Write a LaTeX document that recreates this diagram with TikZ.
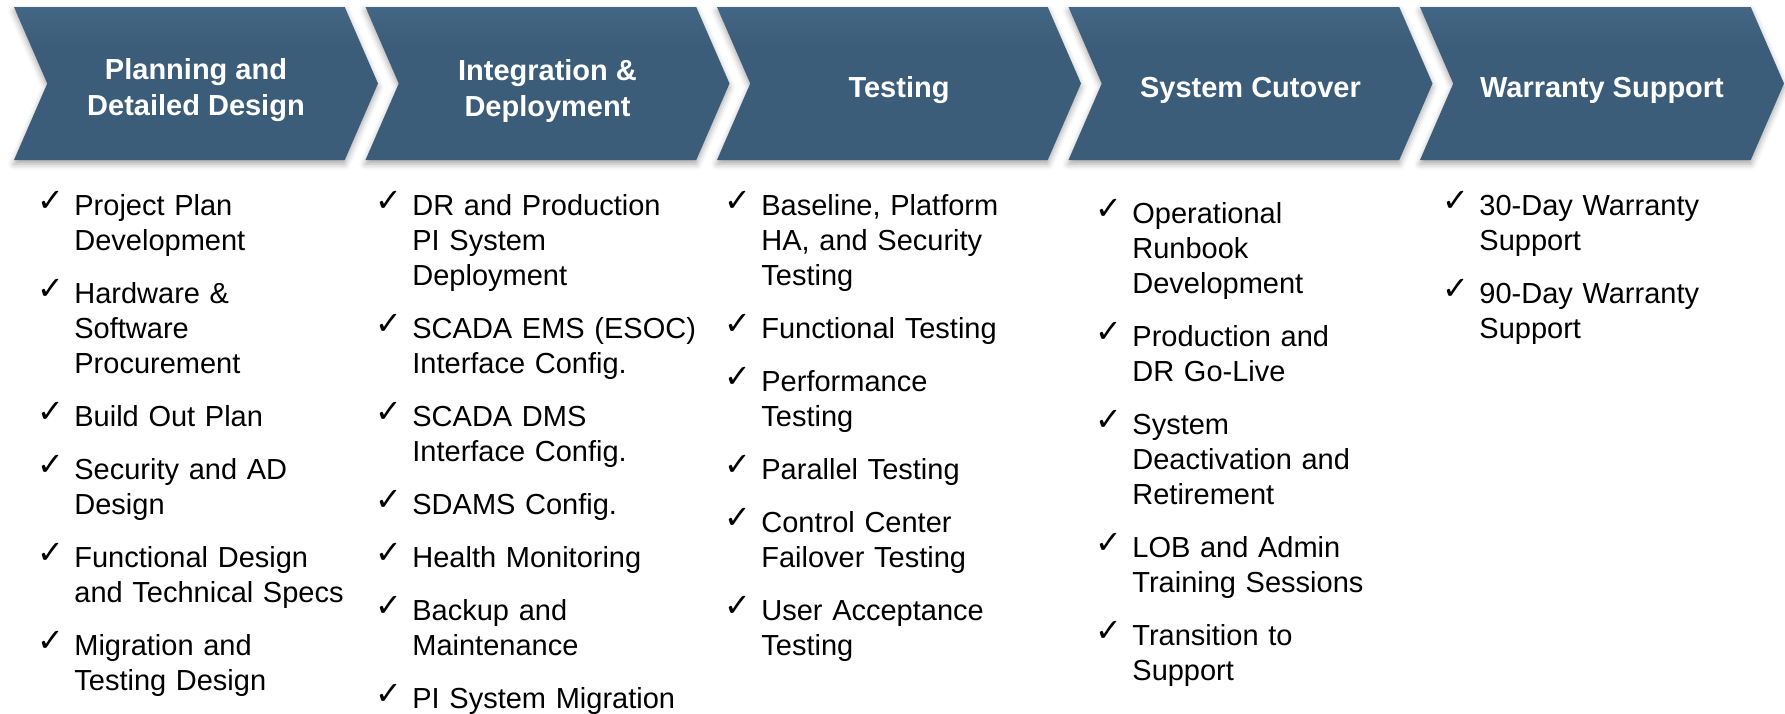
\documentclass[tikz,border=0pt]{standalone}
\usepackage{fontspec}
\setmainfont{Liberation Sans}
\newfontfamily\tickfont{DejaVu Sans}
\usepackage{tikz}
\usetikzlibrary{positioning,shapes.symbols,shadows.blur}
\definecolor{phasetop}{HTML}{86ABC9}
\definecolor{phasemid}{HTML}{4A6E8E}
\definecolor{phasebody}{HTML}{3B5D79}
\definecolor{phaseedge}{HTML}{2E4A62}
\pgfdeclareverticalshading{phaseshade}{100bp}{color(0bp)=(phaseedge); color(8bp)=(phasebody); color(62bp)=(phasebody); color(86bp)=(phasemid); color(100bp)=(phasetop)}
% one ticked entry of a phase list
\newcommand{\tick}[1]{\setlength{\parskip}{9pt}\noindent\hangindent=18.5pt\hangafter=1%
  \makebox[18.5pt][l]{\smash{\raisebox{2pt}{\tickfont\fontsize{16}{16}\selectfont ✓}}}#1\par}

\begin{document}
\begin{tikzpicture}[
  x=0.5pt,y=-0.5pt,
  phase/.style={signal,signal from=west,signal to=east,signal pointer angle=133,minimum width=182pt,minimum height=76.5pt,inner sep=0pt,shading=phaseshade,blur shadow={shadow xshift=0pt,shadow yshift=-2pt,shadow blur radius=3pt,shadow opacity=35}},
  phasetext/.style={text=white,font=\fontsize{14.5}{18}\selectfont\bfseries,align=center,inner sep=0pt},
  phaselist/.style={anchor=base west,text width=170pt,align=left,inner sep=0pt,font=\fontsize{14.5}{17.5}\selectfont}
]
\useasboundingbox (0,0) rectangle (1785,713);
\node[phase] (plan) at (196,83.5) {};
\node[phase] (integ) at (547.5,83.5) {};
\node[phase] (test) at (899,83.5) {};
\node[phase] (cutover) at (1250.5,83.5) {};
\node[phase] (warranty) at (1602,83.5) {};
\node[phasetext] (plantext) at ([yshift=-3.5pt]plan.center) {Planning and\\Detailed Design};
\node[phasetext] (integtext) at ([yshift=-3.5pt]integ.center) {Integration \&\\Deployment};
\node[phasetext] (testtext) at ([yshift=-3.5pt]test.center) {Testing};
\node[phasetext] (cutovertext) at ([yshift=-3.5pt]cutover.center) {System Cutover};
\node[phasetext] (warrantytext) at ([yshift=-3.5pt]warranty.center) {Warranty Support};

\node[phaselist] (planlist) at (37,215) {%
  \tick{Project Plan\newline Development}
  \tick{Hardware \&\newline Software\newline Procurement}
  \tick{Build Out Plan}
  \tick{Security and AD\newline Design}
  \tick{Functional Design\newline and Technical Specs}
  \tick{Migration and\newline Testing Design}};
\node[phaselist] (integlist) at (375,215) {%
  \tick{DR and Production\newline PI System\newline Deployment}
  \tick{SCADA EMS (ESOC)\newline Interface Config.}
  \tick{SCADA DMS\newline Interface Config.}
  \tick{SDAMS Config.}
  \tick{Health Monitoring}
  \tick{Backup and\newline Maintenance}
  \tick{PI System Migration}};
\node[phaselist] (testlist) at (724,215) {%
  \tick{Baseline, Platform\newline HA, and Security\newline Testing}
  \tick{Functional Testing}
  \tick{Performance\newline Testing}
  \tick{Parallel Testing}
  \tick{Control Center\newline Failover Testing}
  \tick{User Acceptance\newline Testing}};
\node[phaselist] (cutoverlist) at (1095,223) {%
  \tick{Operational\newline Runbook\newline Development}
  \tick{Production and\newline DR Go-Live}
  \tick{System\newline Deactivation and\newline Retirement}
  \tick{LOB and Admin\newline Training Sessions}
  \tick{Transition to\newline Support}};
\node[phaselist] (warrantylist) at (1442,215) {%
  \tick{30-Day Warranty\newline Support}
  \tick{90-Day Warranty\newline Support}};
\end{tikzpicture}
\end{document}
